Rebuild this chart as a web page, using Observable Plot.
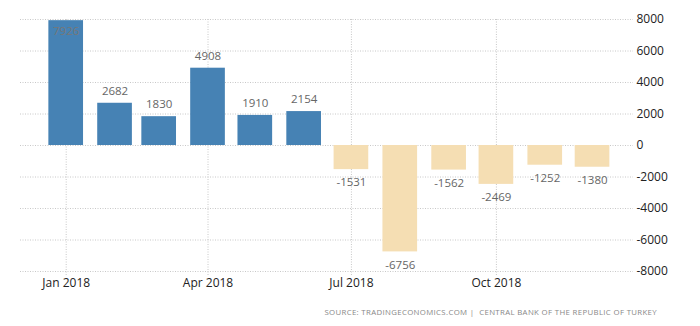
<!DOCTYPE html>
<html>
<head>
<meta charset="utf-8">
<script src="https://cdn.jsdelivr.net/npm/d3@7"></script>
<script src="https://cdn.jsdelivr.net/npm/@observablehq/plot@0.6"></script>
<style>
  html, body { margin: 0; padding: 0; background: #fff; }
  #chart { width: 700px; }
  #source { width: 657px; text-align: right; font-family: "Open Sans", sans-serif; font-size: 7.8px; letter-spacing: 0.35px; color: #888; margin-top: 11px; white-space: nowrap; }
</style>
</head>
<body>
<div id="chart"></div>
<div id="source">SOURCE: TRADINGECONOMICS.COM&nbsp;|&nbsp; CENTRAL BANK OF THE REPUBLIC OF TURKEY</div>
<script>
const months = ["2018-01-01","2018-02-01","2018-03-01","2018-04-01","2018-05-01","2018-06-01","2018-07-01","2018-08-01","2018-09-01","2018-10-01","2018-11-01","2018-12-01"];
const values = [7926, 2682, 1830, 4908, 1910, 2154, -1531, -6756, -1562, -2469, -1252, -1380];
const yTicks = [-8000, -6000, -4000, -2000, 0, 2000, 4000, 6000, 8000];
const xDomain = ["2017-12-03", "2018-12-27"];

const data = months.map((m, i) => ({date: new Date(m), value: values[i]}));
const halfBar = 11; // days
const quarterTicks = d3.utcMonth.every(3).range(new Date("2018-01-01"), new Date("2018-12-31"));

const plot = Plot.plot({
  width: 700,
  height: 296,
  marginLeft: 20,
  marginRight: 67,
  marginTop: 19,
  marginBottom: 25,
  style: {fontFamily: "Open Sans, sans-serif", fontSize: "11px", background: "#fff"},
  x: {type: "utc", domain: xDomain.map(d => new Date(d)), label: null},
  y: {domain: [-8000, 8000], label: null},
  marks: [
    Plot.gridY(yTicks, {stroke: "#c8c8c8", strokeOpacity: 1, strokeDasharray: "1,1.5"}),
    Plot.gridX(quarterTicks, {stroke: "#c8c8c8", strokeOpacity: 1, strokeDasharray: "1,1.5", insetBottom: -5}),
    Plot.rectY(data, {
      x1: d => d3.utcDay.offset(d.date, -halfBar),
      x2: d => d3.utcDay.offset(d.date, halfBar),
      y: "value",
      fill: d => d.value >= 0 ? "#4682b4" : "#f5deb3"
    }),
    Plot.text(data.filter(d => d.value >= 0 && d.value < 7000), {x: "date", y: "value", text: d => String(d.value), dy: -12, fill: "#666", fontSize: 11.5}),
    Plot.text(data.filter(d => d.value >= 7000), {x: "date", y: "value", text: d => String(d.value), dy: 11, fill: "#777", fontSize: 11.5}),
    Plot.text(data.filter(d => d.value < 0), {x: "date", y: "value", text: d => String(d.value), dy: 13, fill: "#666", fontSize: 11.5}),
    Plot.axisY(yTicks, {anchor: "right", tickSize: 0, tickPadding: 3, tickFormat: d => String(d), fill: "#222", fontSize: 12, label: null}),
    Plot.axisX(quarterTicks, {tickSize: 0, tickPadding: 7, tickFormat: d3.utcFormat("%b %Y"), fill: "#222", fontSize: 12, label: null})
  ]
});
document.getElementById("chart").appendChild(plot);
</script>
</body>
</html>
